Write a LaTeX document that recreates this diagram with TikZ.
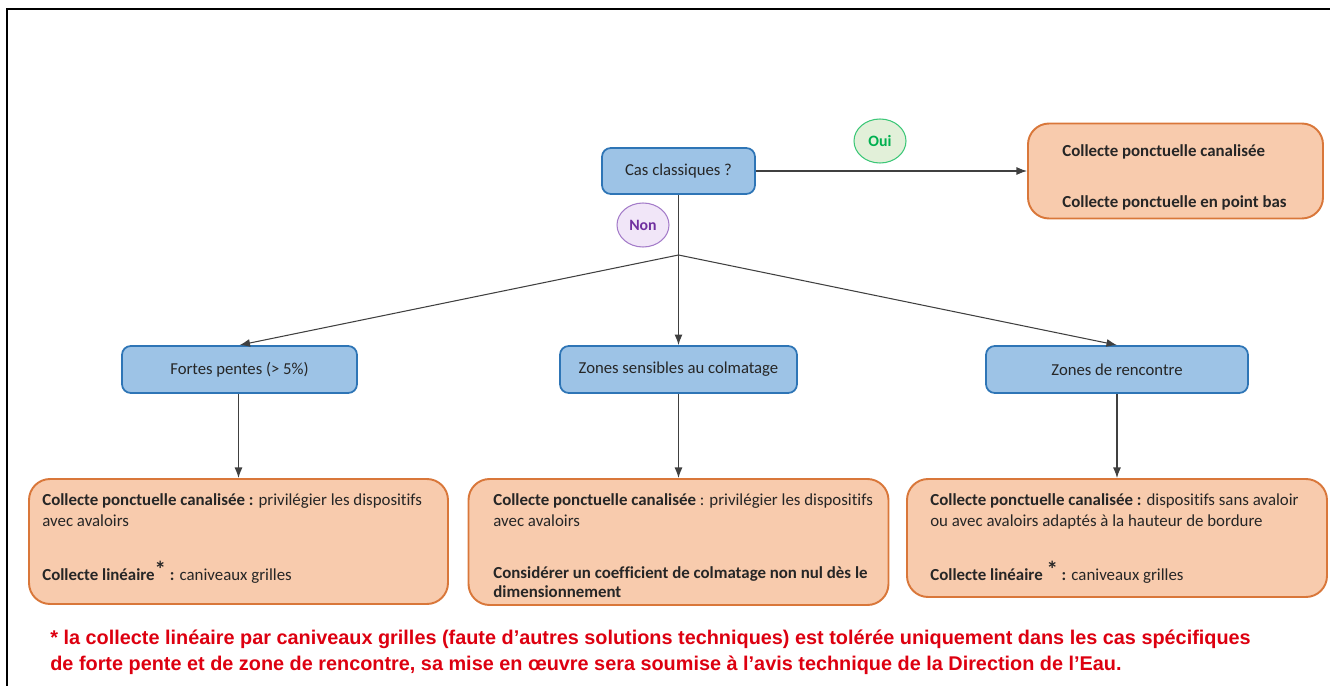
\documentclass[tikz,border=0pt]{standalone}
\usepackage{fontspec}
\setmainfont[Ligatures=NoCommon]{Carlito}
\newfontfamily\notefont{Liberation Sans}
\usetikzlibrary{arrows.meta,shapes.geometric}

\definecolor{qfill}{HTML}{9DC3E6}
\definecolor{qdraw}{HTML}{2E75B6}
\definecolor{afill}{HTML}{F8CBAD}
\definecolor{adraw}{HTML}{D9773A}
\definecolor{ouifill}{HTML}{E2F0D9}
\definecolor{ouidraw}{HTML}{3CC777}
\definecolor{ouitext}{HTML}{00B050}
\definecolor{nonfill}{HTML}{F1E6F8}
\definecolor{nondraw}{HTML}{A47CC9}
\definecolor{nontext}{HTML}{7030A0}
\definecolor{notered}{HTML}{DD0010}
\definecolor{linkgray}{HTML}{404040}

\def\px{0.02cm}
\newcommand{\notestar}{\raisebox{1.5pt}{\fontsize{13}{13}\selectfont\textbf{*}}}

\tikzset{
  qbox/.style={draw=qdraw, fill=qfill, line width=1pt, rounded corners=5pt,
    minimum height=47*\px, inner sep=0pt, font=\fontsize{9.5}{11}\selectfont, text=black!85},
  abox/.style={draw=adraw, fill=afill, line width=1.1pt, rounded corners=12pt, inner sep=0pt},
  tag/.style={ellipse, line width=0.6pt, minimum width=52*\px, minimum height=44*\px,
    inner sep=0pt, font=\fontsize{9}{11}\selectfont\bfseries},
  txt/.style={anchor=base west, inner sep=0pt, font=\fontsize{9.6}{11}\selectfont, text=black!85},
  note/.style={anchor=base west, inner sep=0pt, text=notered,
    font=\notefont\fontsize{11.3}{13}\selectfont\bfseries},
  link/.style={draw=linkgray, line width=0.6pt},
  arr/.style={link, -{Latex[length=6pt,width=4.5pt]}},
}

\begin{document}
\begin{tikzpicture}[x=0.02cm,y=-0.02cm]
  \useasboundingbox (0,0) rectangle (1330,686);

  % frame
  \draw[line width=1.3pt] (7,686) -- (7,9) -- (1330,9);

  % question
  \node[qbox, minimum width=153*\px, minimum height=46*\px] (cas) at (678.5,171) {Cas classiques ?};

  \node[tag, draw=ouidraw, fill=ouifill, text=ouitext] (oui) at (880,141) {Oui};
  \node[tag, draw=nondraw, fill=nonfill, text=nontext] (non) at (643,225) {Non};

  % answer oui
  \node[abox, minimum width=295*\px, minimum height=95*\px] (res) at (1175.5,171) {};
  \foreach \x/\y/\t/\name in {1062/157/{Collecte ponctuelle canalisée}/resa,
                              1062/208/{Collecte ponctuelle en point bas}/resb}{
    \node[txt] (\name) at (\x,\y) {\textbf{\t}};
  }

  % cases
  \node[qbox, minimum width=235*\px] (fp) at (239.5,369.5) {Fortes pentes (> 5\%)};
  \node[qbox, minimum width=237*\px] (zs) at (678.5,369.5) {Zones sensibles au colmatage};
  \node[qbox, minimum width=262*\px] (zr) at (1117,369.5) {Zones de rencontre};

  \node[abox, minimum width=419*\px, minimum height=125*\px] (fpres) at (238.5,541.5) {};
  \node[abox, minimum width=420*\px, minimum height=126*\px] (zsres) at (678.5,542) {};
  \node[abox, minimum width=420*\px, minimum height=118*\px] (zrres) at (1117,538) {};

  % texts
  \foreach \x/\y/\t/\name in {
      42/505/{\textbf{Collecte ponctuelle canalisée :} privilégier les dispositifs}/fpa,
      42/526/{avec avaloirs}/fpb,
      42/580/{\textbf{Collecte linéaire}\notestar{} \textbf{:} caniveaux grilles}/fpc,
      493/505/{\textbf{Collecte ponctuelle canalisée} : privilégier les dispositifs}/zsa,
      493/526/{avec avaloirs}/zsb,
      493/578/{\textbf{Considérer un coefficient de colmatage non nul dès le}}/zsc,
      493/597/{\textbf{dimensionnement}}/zsd,
      930/505/{\textbf{Collecte ponctuelle canalisée :} dispositifs sans avaloir}/zra,
      930/526/{ou avec avaloirs adaptés à la hauteur de bordure}/zrb,
      930/580/{\textbf{Collecte linéaire} \notestar{} \textbf{:} caniveaux grilles}/zrc}{
    \node[txt] (\name) at (\x,\y) {\t};
  }

  % links
  \coordinate (split) at (678.5,255);
  \draw[arr] (cas.east) -- (res.west);
  \draw[link] (cas.south) -- (split);
  \draw[arr] (split) -- (fp.north);
  \draw[arr] (split) -- (zs.north);
  \draw[arr] (split) -- (zr.north);
  \draw[arr] (fpres.north |- fp.south) -- (fpres.north);
  \draw[arr] (zs.south) -- (zsres.north);
  \draw[arr] (zr.south) -- (zrres.north);

  % note
  \node[note] (notea) at (50,644)
    {* la collecte linéaire par caniveaux grilles (faute d’autres solutions techniques) est tolérée uniquement dans les cas spécifiques};
  \node[note] (noteb) at (50,670)
    {de forte pente et de zone de rencontre, sa mise en œuvre sera soumise à l’avis technique de la Direction de l’Eau.};
\end{tikzpicture}
\end{document}
